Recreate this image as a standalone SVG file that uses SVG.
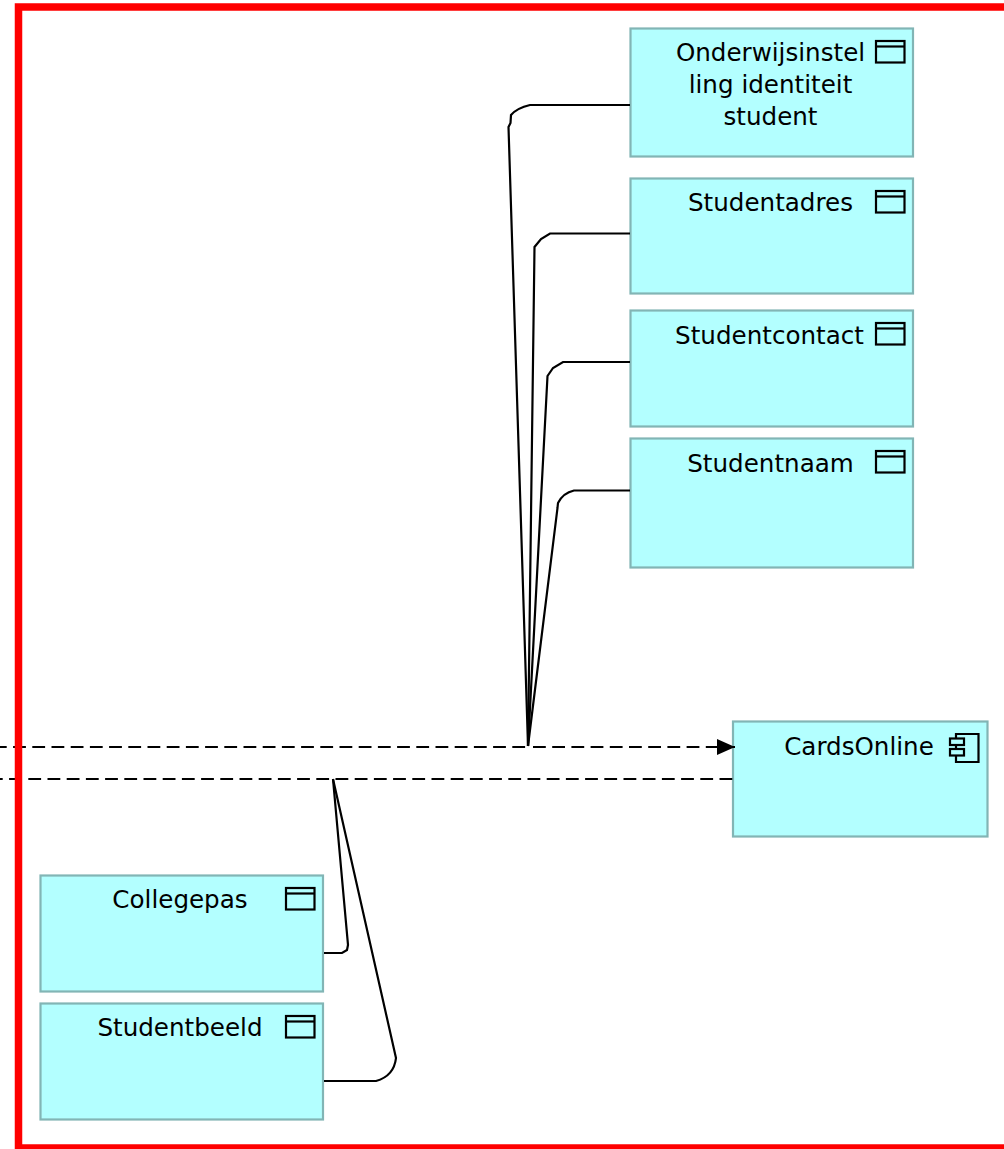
<svg xmlns="http://www.w3.org/2000/svg" width="1004" height="1149" viewBox="0 0 1004 1149">
<style>
.n{fill:#b3ffff;stroke:#82b5b5;stroke-width:2.2}
.t{font-family:"DejaVu Sans",sans-serif;font-size:24.6px;fill:#000;text-anchor:middle}
.i{fill:none;stroke:#000;stroke-width:2.200}
.c{fill:none;stroke:#000;stroke-width:2.200}
.d{fill:none;stroke:#000;stroke-width:2.200;stroke-dasharray:12.800 6.400}
</style>
<defs>
<marker id="a" markerUnits="userSpaceOnUse" markerWidth="20" markerHeight="16" refX="18" refY="8" orient="auto"><path d="M0 0L18 8L0 16Z" fill="#000"/></marker>
<g id="obj"><rect class="i" x="0" y="0" width="28.500" height="21.500"/><path class="i" d="M0 5.500H28.500"/></g>
</defs>
<rect width="1004" height="1149" fill="#fff"/>
<g id="onderwijs"><rect class="n" x="630.500" y="28.500" width="282.500" height="128"/><text class="t" x="770.500" y="61">Onderwijsinstel</text><text class="t" x="770.500" y="93">ling identiteit</text><text class="t" x="770.500" y="125">student</text><use href="#obj" x="876" y="41"/></g>
<g id="studentadres"><rect class="n" x="630.500" y="178.500" width="282.500" height="115"/><text class="t" x="770.500" y="211">Studentadres</text><use href="#obj" x="876" y="191"/></g>
<g id="studentcontact"><rect class="n" x="630.500" y="310.500" width="282.500" height="116"/><text class="t" x="769.500" y="344">Studentcontact</text><use href="#obj" x="876" y="323"/></g>
<g id="studentnaam"><rect class="n" x="630.500" y="438.500" width="282.500" height="129"/><text class="t" x="770.500" y="472">Studentnaam</text><use href="#obj" x="876" y="451"/></g>
<g id="cardsonline"><rect class="n" x="733" y="721.500" width="254.500" height="115"/><text class="t" x="859" y="755">CardsOnline</text>
<path class="i" d="M956 738V734H978.500V762H956V755M956 749V745"/><rect class="i" x="950" y="738.500" width="14" height="6.500"/><rect class="i" x="950" y="749" width="14" height="6.500"/></g>
<g id="collegepas"><rect class="n" x="40.500" y="875.500" width="282.500" height="116"/><text class="t" x="180" y="908">Collegepas</text><use href="#obj" x="286" y="888"/></g>
<g id="studentbeeld"><rect class="n" x="40.500" y="1003.500" width="282.500" height="116"/><text class="t" x="180" y="1036">Studentbeeld</text><use href="#obj" x="286" y="1016"/></g>
<g id="connectors">
<path class="d" stroke-dashoffset="6.100" d="M0 747H528"/>
<path class="d" stroke-dashoffset="14.200" d="M528 747H735" marker-end="url(#a)"/>
<path class="d" stroke-dashoffset="10.100" d="M0 779H733"/>
<path class="c" d="M630 105H530Q517 108 511 115L510.500 123L508.500 127L528 746"/>
<path class="c" d="M630 233.500H550L541 239L534.500 247L528 746"/>
<path class="c" d="M630 362H563L553 368L547.500 376L528 746"/>
<path class="c" d="M630 490.500H574Q563 493 558 503L557.500 508L528 746"/>
<path class="c" d="M333 779L348 945L347 950L342 953H324"/>
<path class="c" d="M333 779L396 1058Q394 1076 376 1081H324"/>
</g>
<rect x="18.500" y="7" width="1000" height="1141" fill="none" stroke="#f00" stroke-width="7.500"/>
</svg>
